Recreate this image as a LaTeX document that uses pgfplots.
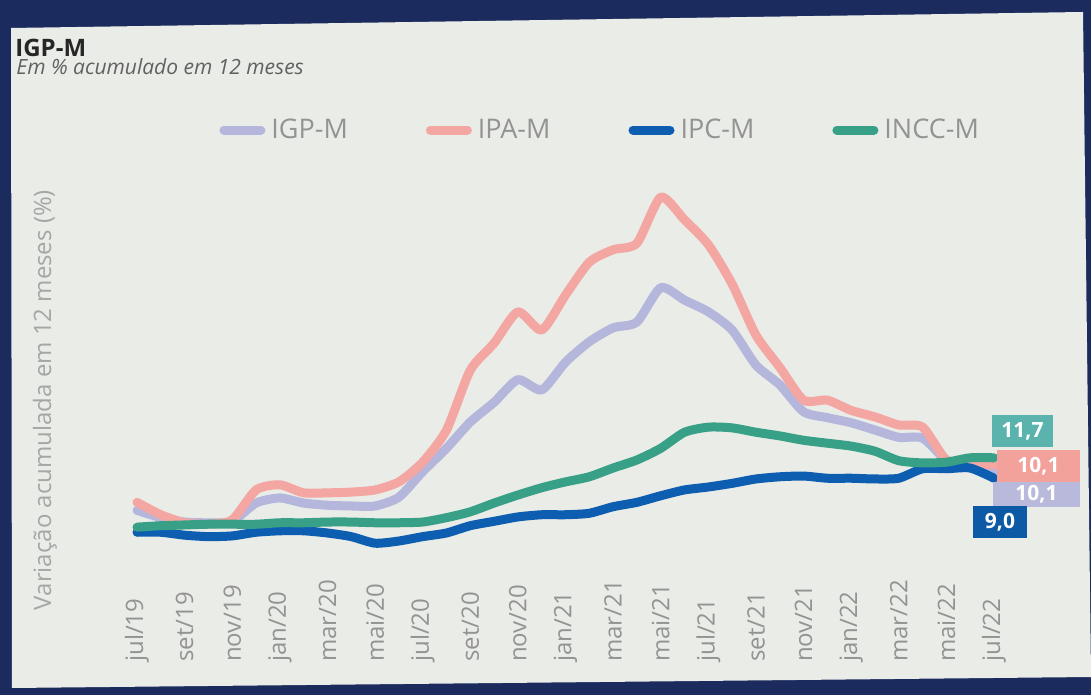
\documentclass[border=0pt]{standalone}
\usepackage{fontspec}
\setmainfont{Open Sans}
\usepackage{pgfplots}
\usepackage{pgfplotstable}
\pgfplotsset{compat=1.18}
\definecolor{navy}{HTML}{1C2B5E}
\definecolor{panel}{HTML}{EAECE8}
\definecolor{cigp}{HTML}{B4B6DC}
\definecolor{cipa}{HTML}{F4A6A2}
\definecolor{cipc}{HTML}{0D5EB0}
\definecolor{cincc}{HTML}{38A086}
\definecolor{bteal}{HTML}{5BB3AD}
\definecolor{bpink}{HTML}{F2A19B}
\definecolor{blav}{HTML}{B9B9DC}
\definecolor{bblue}{HTML}{0C5AA6}
\definecolor{tgray}{HTML}{939393}
\definecolor{lgray}{HTML}{A6A6A6}

\pgfplotstableread{
i igp ipa ipc incc
0 6.8 7.9 3.8 4.5
1 5.8 6.2 3.8 4.7
2 5.2 5.1 3.4 4.8
3 5.1 4.9 3.2 4.9
4 5.3 5.5 3.3 4.9
5 7.8 9.6 3.8 4.9
6 8.5 10.3 4.0 5.1
7 7.8 9.2 4.0 5.1
8 7.5 9.2 3.7 5.2
9 7.4 9.3 3.2 5.2
10 7.4 9.6 2.3 5.1
11 8.6 10.7 2.6 5.1
12 12.1 13.4 3.2 5.2
13 15.3 17.8 3.7 5.8
14 18.9 26.0 4.7 6.6
15 21.6 29.7 5.3 7.8
16 24.7 34.0 5.9 8.9
17 23.3 31.5 6.2 9.9
18 27.1 36.3 6.2 10.7
19 29.9 40.8 6.4 11.4
20 31.8 42.5 7.3 12.6
21 32.6 43.4 7.9 13.7
22 37.3 49.7 8.8 15.3
23 35.6 46.6 9.6 17.5
24 34.0 43.2 10.0 18.2
25 31.5 37.8 10.5 18.1
26 26.7 30.8 11.1 17.5
27 24.0 26.4 11.4 17.0
28 20.3 21.9 11.5 16.4
29 19.5 21.9 11.2 16.0
30 18.8 20.5 11.2 15.6
31 17.8 19.6 11.1 14.9
32 16.8 18.5 11.2 13.6
33 16.7 18.2 12.5 13.3
34 13.7 13.7 12.5 13.4
35 13.0 13.3 12.6 14.0
36 12.3 13.0 11.2 14.0
}\datatable

\begin{document}
\begin{tikzpicture}
\useasboundingbox (0pt,0pt) rectangle (545.5pt,347.5pt);
\fill[navy] (0pt,0pt) rectangle (545.5pt,347.5pt);
\fill[panel] (5.5pt,333.5pt) -- (541.5pt,341.5pt) -- (545.5pt,9pt) -- (6pt,3.5pt) -- cycle;

\node[anchor=base west, inner sep=0pt, text=black!85] at (7.5pt,319pt) {\fontsize{12}{14}\selectfont\bfseries IGP-M};
\node[anchor=base west, inner sep=0pt, text=black!62] at (8pt,310pt) {\fontsize{10.5}{12}\selectfont\itshape Em \% acumulado em 12 meses};
\node[rotate=90, inner sep=0pt, text=lgray] at (22.5pt,147.5pt) {\fontsize{12}{14}\selectfont Variação acumulada em 12 meses (\%)};

\begin{axis}[
  at={(68.5pt,16.4pt)}, anchor=south west,
  scale only axis, width=428.5pt, height=240.9pt,
  xmin=0, xmax=36, ymin=-14, ymax=52,
  clip=false,
  axis line style={draw=none},
  major tick length=0pt,
  ytick=\empty,
  xtick={0,2,...,36},
  xticklabels={jul/19,set/19,nov/19,jan/20,mar/20,mai/20,jul/20,set/20,nov/20,jan/21,mar/21,mai/21,jul/21,set/21,nov/21,jan/22,mar/22,mai/22,jul/22},
  xticklabel style={rotate=90, anchor=west, inner sep=0pt, text=tgray, font=\fontsize{12}{14}\selectfont},
  legend columns=4,
  legend style={at={(0.0957,1.1046)}, anchor=west, draw=none, fill=none, inner sep=0pt,
    font=\fontsize{13.5}{15}\selectfont, text=tgray,
    /tikz/every odd column/.style={column sep=1pt},
    /tikz/every even column/.style={column sep=37pt}},
  legend image code/.code={\draw[#1, line width=4.5pt, line cap=round] (2.25pt,0pt) -- (20.75pt,0pt);},
  every axis plot/.append style={line width=4.5pt, line cap=round, line join=round, smooth, tension=0.4},
]
\addplot[cigp] table[x=i, y=igp] {\datatable};
\addlegendentry{IGP-M}
\addplot[cipa] table[x=i, y=ipa] {\datatable};
\addlegendentry{IPA-M}
\addplot[cipc] table[x=i, y=ipc] {\datatable};
\addlegendentry{IPC-M}
\addplot[cincc] table[x=i, y=incc] {\datatable};
\addlegendentry{INCC-M}
\end{axis}

\node[fill=bteal, text=white, minimum width=30.5pt, minimum height=16pt, inner sep=0pt, font=\fontsize{10.5}{12}\selectfont\bfseries] at (511.25pt,132pt) {11,7};
\node[fill=bpink, text=white, minimum width=41.5pt, minimum height=16pt, inner sep=0pt, font=\fontsize{10.5}{12}\selectfont\bfseries] at (519.25pt,114.5pt) {10,1};
\node[fill=blav, text=white, minimum width=43.5pt, minimum height=12.5pt, inner sep=0pt, font=\fontsize{10.5}{12}\selectfont\bfseries] at (518.25pt,100.25pt) {10,1};
\node[fill=bblue, text=white, minimum width=27pt, minimum height=16pt, inner sep=0pt, font=\fontsize{10.5}{12}\selectfont\bfseries] at (500pt,86.5pt) {9,0};
\end{tikzpicture}
\end{document}
